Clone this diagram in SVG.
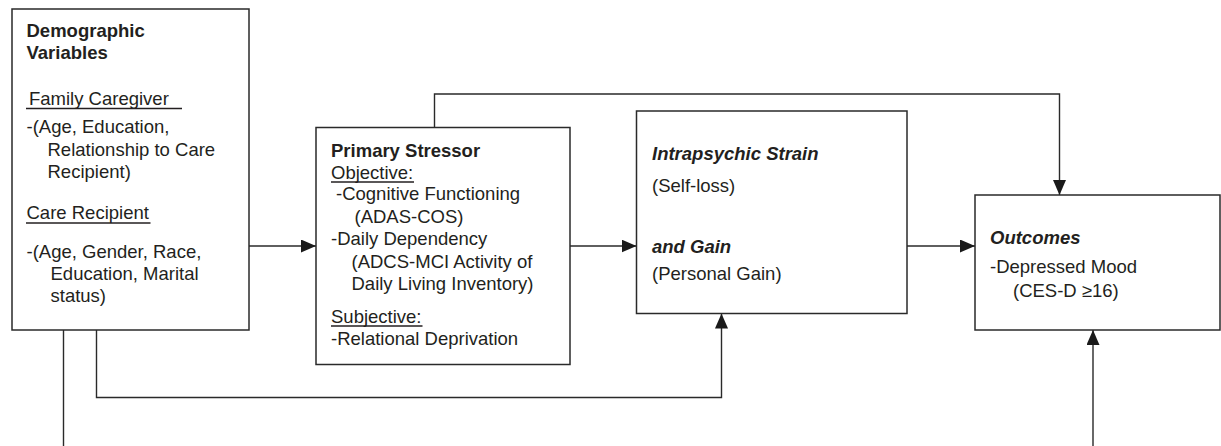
<svg xmlns="http://www.w3.org/2000/svg" width="1221" height="446" viewBox="0 0 1221 446">
<style>
.box{fill:#fff;stroke:#2a2a2a;stroke-width:1.5}
.t{font-family:"Liberation Sans",Arial,Helvetica,sans-serif;font-size:18.5px;fill:#231f20}
.b{font-weight:bold}
.bi{font-weight:bold;font-style:italic}
.ul{stroke:#231f20;stroke-width:1.5}
.c{fill:none;stroke:#2a2a2a;stroke-width:1.4}
</style>
<defs>
<marker id="ah" markerUnits="userSpaceOnUse" markerWidth="16" markerHeight="14" refX="15" refY="6.5" orient="auto">
<path d="M0,0 L15,6.5 L0,13 z" fill="#1a1a1a"/>
</marker>
</defs>
<rect width="1221" height="446" fill="#fff"/>
<g id="connectors">
<path class="c" d="M249,246 H316" marker-end="url(#ah)"/>
<path class="c" d="M570,246 H636.5" marker-end="url(#ah)"/>
<path class="c" d="M907,246 H975" marker-end="url(#ah)"/>
<path class="c" d="M434.5,127.5 V94 H1059.5 V195" marker-end="url(#ah)"/>
<path class="c" d="M96.5,330 V397.5 H721.5 V313.5" marker-end="url(#ah)"/>
<path class="c" d="M63.5,330 V470 H1093 V330" marker-end="url(#ah)"/>
</g>
<g id="demographic">
<rect class="box" x="12" y="9" width="237" height="321"/>
<text class="t b" x="26.5" y="36.5">Demographic</text>
<text class="t b" x="26.5" y="59">Variables</text>
<text class="t" x="29" y="105">Family Caregiver</text>
<line class="ul" x1="26" y1="108.5" x2="182" y2="108.5"/>
<text class="t" x="26.5" y="133">-(Age, Education,</text>
<text class="t" x="47.5" y="155.5">Relationship to Care</text>
<text class="t" x="47.5" y="178">Recipient)</text>
<text class="t" x="26.5" y="219">Care Recipient</text>
<line class="ul" x1="26" y1="223" x2="150.5" y2="223"/>
<text class="t" x="26.5" y="258">-(Age, Gender, Race,</text>
<text class="t" x="50.5" y="280">Education, Marital</text>
<text class="t" x="50.5" y="301.5">status)</text>
</g>
<g id="primary-stressor">
<rect class="box" x="316" y="127.5" width="254" height="237"/>
<text class="t b" x="331" y="156.5">Primary Stressor</text>
<text class="t" x="331" y="179">Objective:</text>
<line class="ul" x1="331" y1="182" x2="414" y2="182"/>
<text class="t" x="336" y="200">-Cognitive Functioning</text>
<text class="t" x="354.5" y="223">(ADAS-COS)</text>
<text class="t" x="331" y="245">-Daily Dependency</text>
<text class="t" x="351.5" y="268">(ADCS-MCI Activity of</text>
<text class="t" x="351.5" y="290">Daily Living Inventory)</text>
<text class="t" x="331" y="322.5">Subjective:</text>
<line class="ul" x1="331" y1="326" x2="422.5" y2="326"/>
<text class="t" x="331" y="345">-Relational Deprivation</text>
</g>
<g id="intrapsychic">
<rect class="box" x="636.5" y="111" width="270.5" height="202.5"/>
<text class="t bi" x="652" y="160">Intrapsychic Strain</text>
<text class="t" x="652" y="191.5">(Self-loss)</text>
<text class="t bi" x="652" y="252.5">and Gain</text>
<text class="t" x="652" y="280">(Personal Gain)</text>
</g>
<g id="outcomes">
<rect class="box" x="975" y="195" width="245" height="135"/>
<text class="t bi" x="990" y="244">Outcomes</text>
<text class="t" x="990" y="273">-Depressed Mood</text>
<text class="t" x="1013" y="296.5">(CES-D ≥16)</text>
</g>
</svg>
